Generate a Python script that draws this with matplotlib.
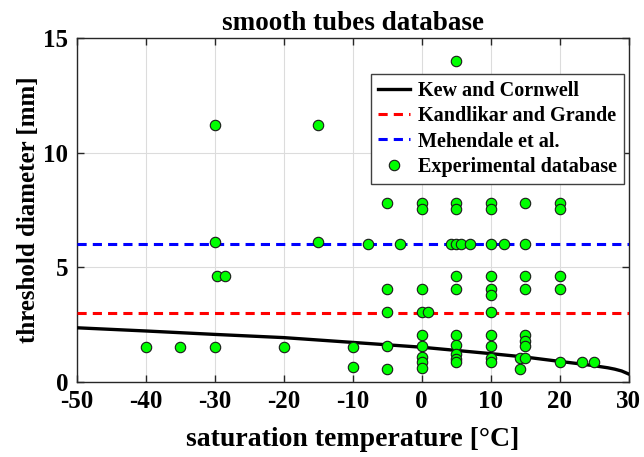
import matplotlib
matplotlib.use("Agg")
import matplotlib.pyplot as plt

plt.rcParams['font.family'] = ['Liberation Serif', 'DejaVu Serif']
plt.rcParams['font.weight'] = 'bold'
plt.rcParams['axes.unicode_minus'] = False

# Kew and Cornwell threshold diameter
kc_temp = [-50, -40, -30, -20, -10, 0, 5, 10, 15, 20, 23, 25, 27, 28, 29, 30]
kc_diam = [2.35, 2.21, 2.06, 1.92, 1.71, 1.50, 1.36, 1.22, 1.07, 0.88, 0.77,
           0.69, 0.60, 0.54, 0.46, 0.33]

# constant criteria
kg_temp = [-50, 30]
kg_diam = [3.0, 3.0]
meh_temp = [-50, 30]
meh_diam = [6.0, 6.0]

# experimental database points
exp_temp = [-40, -35, -30, -20, -10, -10,
            -30, -15, 5,
            -30, -15, -29.7, -28.5,
            -7.8, -3.1, 4.2, 5, 5.7, 7, 10, 12, 15,
            -5, 0, 0, 5, 5, 10, 10, 15, 20, 20,
            5, 10, 15, 20,
            -5, 0, 5, 10, 15, 20, 10,
            -5, 0, 1, 10,
            0, 5, 10, 15, 15, 15,
            -5, -5,
            0, 0, 0, 0,
            5, 5, 5, 5,
            10, 10, 10,
            14.3, 14.3, 15,
            20, 23.3, 25]
exp_diam = [1.52, 1.52, 1.52, 1.52, 1.52, 0.62,
            11.2, 11.2, 14.0,
            6.11, 6.11, 4.61, 4.61,
            6.0, 6.0, 6.0, 6.0, 6.0, 6.0, 6.0, 6.0, 6.0,
            7.79, 7.79, 7.54, 7.79, 7.54, 7.79, 7.54, 7.79, 7.79, 7.54,
            4.61, 4.61, 4.61, 4.61,
            4.03, 4.03, 4.03, 4.03, 4.03, 4.03, 3.77,
            3.03, 3.03, 3.03, 3.03,
            2.03, 2.03, 2.03, 2.03, 1.77, 1.54,
            1.54, 0.56,
            1.54, 1.08, 0.87, 0.61,
            1.6, 1.2, 1.0, 0.85,
            1.54, 1.04, 0.84,
            1.04, 0.56, 1.04,
            0.84, 0.84, 0.84]

fig = plt.figure(figsize=(6.44, 4.57), dpi=100)
ax = fig.add_axes([0.1188, 0.1652, 0.8572, 0.7506])

ax.plot(kc_temp, kc_diam, color='black', lw=2.4, label='Kew and Cornwell', zorder=3)
ax.plot(kg_temp, kg_diam, color='red', lw=2.2, ls=(0, (3, 2)),
        label='Kandlikar and Grande', zorder=3)
ax.plot(meh_temp, meh_diam, color='blue', lw=2.2, ls=(0, (3, 2)),
        label='Mehendale et al.', zorder=3)
ax.plot(exp_temp, exp_diam, ls='none', marker='o', ms=7.5, mfc='#00ff00',
        mec='#1a1a1a', mew=0.8, label='Experimental database', zorder=4)

ax.set_xlim(-50, 30)
ax.set_ylim(0, 15)
ax.set_xticks(range(-50, 31, 10))
ax.set_yticks([0, 5, 10, 15])
ax.grid(True, color='#dcdcdc', lw=0.8)
ax.set_axisbelow(True)
ax.tick_params(direction='in', top=True, right=True, labelsize=18, length=5,
               color='#262626', width=1)
ax.tick_params(axis='x', pad=6)
ax.tick_params(axis='y', pad=6)
for sp in ax.spines.values():
    sp.set_color('#262626')
    sp.set_linewidth(1)

ax.set_xlabel('saturation temperature [°C]', fontsize=20, fontweight='bold',
              labelpad=10)
ax.set_ylabel('threshold diameter [mm]', fontsize=18, fontweight='bold',
              labelpad=2)
ax.set_title('smooth tubes database', fontsize=19.5, fontweight='bold', pad=6)

leg = ax.legend(loc='upper right', bbox_to_anchor=(0.992, 0.8965), fontsize=14.5,
                handlelength=1.6, handletextpad=0.4, borderpad=0.35,
                labelspacing=0.26, fancybox=False, framealpha=1,
                edgecolor='#404040', borderaxespad=0)
leg.get_frame().set_linewidth(1)

fig.savefig('out.png', dpi=100)
